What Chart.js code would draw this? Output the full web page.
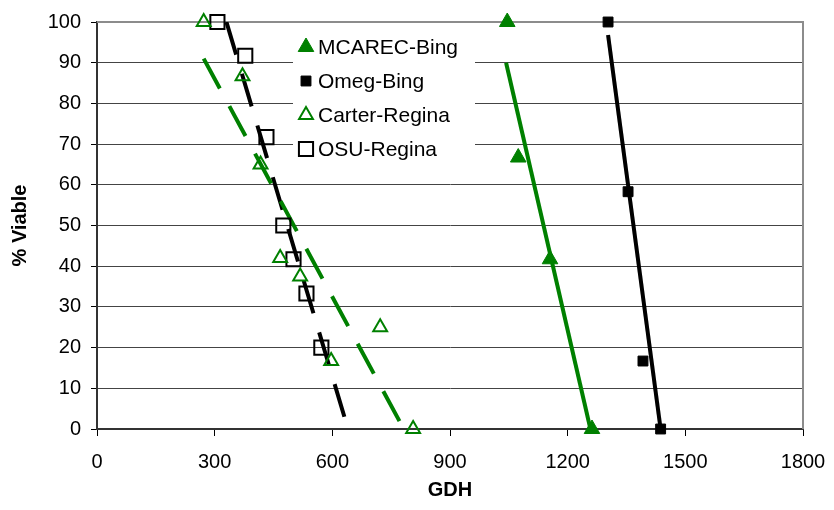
<!DOCTYPE html>
<html>
<head>
<meta charset="utf-8">
<script src="https://cdn.jsdelivr.net/npm/chart.js@4.4.0/dist/chart.umd.min.js"></script>
<style>
  html, body { margin: 0; padding: 0; background: #fff; }
  #wrap { width: 834px; height: 510px; }
</style>
</head>
<body>
<div id="wrap"><canvas id="grafico"></canvas></div>
<script>
// values
const serieNomes = ["MCAREC-Bing", "Omeg-Bing", "Carter-Regina", "OSU-Regina"];

const mcarecGDH = [1046, 1074, 1155, 1262];
const mcarecViavel = [100, 66.7, 41.7, 0];

const omegGDH = [1303, 1354, 1392, 1437];
const omegViavel = [100, 58.3, 16.7, 0];

const carterGDH = [272, 371, 417, 467, 518, 597, 722, 806];
const carterViavel = [100, 86.7, 65, 42, 37.5, 16.7, 25, 0];

const osuGDH = [307, 378, 432, 475, 501, 534, 572];
const osuViavel = [100, 91.7, 71.7, 50, 41.7, 33.3, 20];

// trend lines (start and end as drawn)
const mcarecTendGDH = [1043, 1258];
const mcarecTendViavel = [90, 0];
const omegTendGDH = [1303, 1437];
const omegTendViavel = [96.8, 0];
const carterTendGDH = [272, 782];
const carterTendViavel = [91, 0];
const osuTendGDH = [330, 640];
const osuTendViavel = [100, 0];

const xTicks = [0, 300, 600, 900, 1200, 1500, 1800];
const yTicks = [0, 10, 20, 30, 40, 50, 60, 70, 80, 90, 100];

const verde = "#008000";
const fonte = "'Liberation Sans', Arial, sans-serif";

function pontos(xs, ys) {
  return xs.map((x, i) => ({ x: x, y: ys[i] }));
}

// marker styles, also used by the legend
const marcadores = [
  { pointStyle: "triangle", radius: 9, backgroundColor: verde, borderColor: verde, borderWidth: 1 },
  { pointStyle: "rect", radius: 7, backgroundColor: "#000", borderColor: "#000", borderWidth: 1 },
  { pointStyle: "triangle", radius: 8, backgroundColor: "rgba(0,0,0,0)", borderColor: verde, borderWidth: 2 },
  { pointStyle: "rect", radius: 10, backgroundColor: "rgba(0,0,0,0)", borderColor: "#000", borderWidth: 2 }
];

function linha(xs, ys, cor, tracejado) {
  return {
    data: pontos(xs, ys),
    showLine: true,
    borderColor: cor,
    borderWidth: 4,
    borderDash: tracejado ? [34, 20] : [],
    pointRadius: 0,
    borderCapStyle: "butt"
  };
}

function serie(i, xs, ys) {
  const m = marcadores[i];
  return {
    label: serieNomes[i],
    data: pontos(xs, ys),
    showLine: false,
    clip: false, // markers at 0 and 100 stick out of the plot
    pointStyle: m.pointStyle,
    pointRadius: m.radius,
    pointBackgroundColor: m.backgroundColor,
    pointBorderColor: m.borderColor,
    pointBorderWidth: m.borderWidth
  };
}

// legend box inside the plot, white background over the gridlines
const legendaPlugin = {
  id: "legendaDentro",
  afterDatasetsDraw(chart) {
    const ctx = chart.ctx;
    ctx.save();
    ctx.fillStyle = "#fff";
    ctx.fillRect(293, 26, 182, 142);
    ctx.font = "21px " + fonte;
    ctx.textBaseline = "middle";
    ctx.textAlign = "left";
    for (let i = 0; i < serieNomes.length; i++) {
      const y = 47 + i * 34;
      const m = marcadores[i];
      ctx.fillStyle = m.backgroundColor;
      ctx.strokeStyle = m.borderColor;
      ctx.lineWidth = m.borderWidth;
      Chart.helpers.drawPoint(ctx, { pointStyle: m.pointStyle, radius: m.radius, rotation: 0, borderWidth: m.borderWidth }, 306, y);
      ctx.fillStyle = "#000";
      ctx.fillText(serieNomes[i], 318, y + 1);
    }
    ctx.restore();
  },
  beforeDatasetsDraw(chart) {
    // grey frame of the plot area (top and right)
    const a = chart.chartArea;
    const ctx = chart.ctx;
    ctx.save();
    ctx.strokeStyle = "#8c8c8c";
    ctx.lineWidth = 2;
    ctx.beginPath();
    ctx.moveTo(a.left, a.top);
    ctx.lineTo(a.right, a.top);
    ctx.lineTo(a.right, a.bottom);
    ctx.stroke();
    ctx.restore();
  }
};

const grafico = new Chart(document.getElementById("grafico"), {
  type: "scatter",
  data: {
    datasets: [
      serie(0, mcarecGDH, mcarecViavel),
      serie(1, omegGDH, omegViavel),
      serie(2, carterGDH, carterViavel),
      serie(3, osuGDH, osuViavel),
      linha(mcarecTendGDH, mcarecTendViavel, verde, false),
      linha(omegTendGDH, omegTendViavel, "#000", false),
      linha(carterTendGDH, carterTendViavel, verde, true),
      linha(osuTendGDH, osuTendViavel, "#000", true)
    ]
  },
  options: {
    responsive: true,
    maintainAspectRatio: false,
    animation: false,
    layout: { padding: { top: 20, right: 31, left: 0, bottom: 0 } },
    plugins: {
      legend: { display: false },
      tooltip: { enabled: false }
    },
    scales: {
      x: {
        type: "linear",
        min: 0,
        max: 1800,
        afterBuildTicks: (s) => { s.ticks = xTicks.map(v => ({ value: v })); },
        afterFit: (s) => { s.height = 81; s.paddingRight = 0; s.paddingLeft = 0; },
        ticks: { color: "#000", font: { family: fonte, size: 20 }, padding: 14, maxRotation: 0, callback: (v) => String(v) },
        grid: { drawOnChartArea: false, tickLength: 7, tickColor: "#000", tickWidth: 1 },
        border: { color: "#333", width: 2 },
        title: { display: true, text: "GDH", color: "#000", font: { family: fonte, size: 20, weight: "bold" }, padding: 8 }
      },
      y: {
        type: "linear",
        min: 0,
        max: 100,
        afterBuildTicks: (s) => { s.ticks = yTicks.map(v => ({ value: v })); },
        afterFit: (s) => { s.width = 97; },
        ticks: { color: "#000", font: { family: fonte, size: 20 }, padding: 10, callback: (v) => String(v) },
        grid: { color: "#444", lineWidth: 1, tickLength: 6, tickColor: "#000" },
        border: { color: "#333", width: 2 },
        title: { display: true, text: "% Viable", color: "#000", font: { family: fonte, size: 20, weight: "bold" }, padding: 8 }
      }
    }
  },
  plugins: [legendaPlugin]
});
</script>
</body>
</html>
